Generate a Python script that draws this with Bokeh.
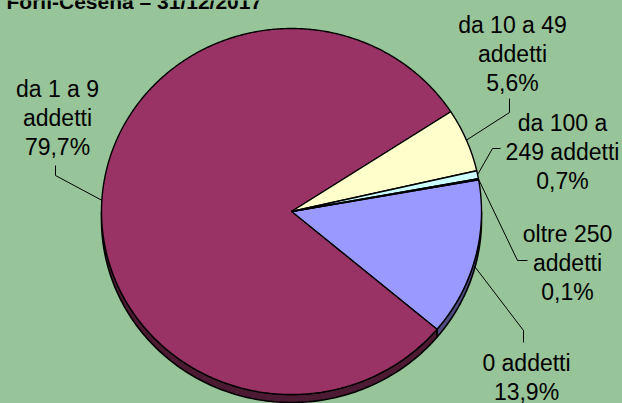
import numpy as np
from bokeh.plotting import figure
from bokeh.models import Range1d, GlobalInlineStyleSheet
from bokeh.embed import file_html
from bokeh.resources import INLINE
from bokeh.core.properties import value

# ---------------- data ----------------
title_text = "Forlì-Cesena – 31/12/2017"
categories = ["0 addetti", "da 1 a 9 addetti", "da 10 a 49 addetti",
              "da 100 a 249 addetti", "oltre 250 addetti"]
shares = [13.9, 79.7, 5.6, 0.7, 0.1]
label_heads = [["0 addetti"], ["da 1 a 9", "addetti"], ["da 10 a 49", "addetti"],
               ["da 100 a", "249 addetti"], ["oltre 250", "addetti"]]
colors = ["#9999FF", "#993366", "#FFFFCC", "#CCFFFF", "#660066"]
side_colors = ["#4D4D80", "#4D1A33", "#80806A", "#6A8080", "#330033"]

# ---------------- layout ----------------
BG = "#98C499"
RX, RY, DEPTH = 190.0, 183.0, 8.0
START = 10.0  # degrees, slices run clockwise from here
FONT = "Liberation Sans"
LINE_H = 29.0
# label anchor (center x, first line center y) and leader elbow points
label_pos = [(235, -151), (-234, 123), (221, 187), (271, 89), (276, -22)]
elbows = [[(232, -131), (232, -119)],
          [(-236, 46), (-236, 36)],
          [(218, 113), (218, 99)],
          [(209, 63), (201, 63)],
          [(236, -49), (226, -49)]]

p = figure(width=622, height=403, x_range=Range1d(-291, 331), y_range=Range1d(-192, 211),
           output_backend="svg", toolbar_location=None, min_border=0,
           x_axis_type=None, y_axis_type=None)
p.grid.visible = False
p.outline_line_color = None
p.background_fill_color = BG
p.border_fill_color = BG
p.stylesheets = [GlobalInlineStyleSheet(css="html, body { background: %s; }" % BG)]

# slice angles
starts, ends = [], []
acc = START
for s in shares:
    starts.append(acc)
    acc -= s * 3.6
    ends.append(acc)

# side (3D thickness) polygons
side_xs, side_ys, side_fc = [], [], []
for i in range(len(shares)):
    lo, hi = ends[i], starts[i]
    for a0, a1 in [(-180, 0), (180, 360), (-540, -360)]:
        a, b = max(lo, a0), min(hi, a1)
        if b > a:
            t = np.radians(np.linspace(a, b, 120))
            xt = RX * np.cos(t)
            yt = RY * np.sin(t)
            side_xs.append(list(np.concatenate([xt, xt[::-1]])))
            side_ys.append(list(np.concatenate([yt, (yt - DEPTH)[::-1]])))
            side_fc.append(side_colors[i])
p.patches(side_xs, side_ys, fill_color=side_fc, line_color="black", line_width=1.6)

# top faces
top_xs, top_ys = [], []
for i in range(len(shares)):
    n = max(4, int(abs(starts[i] - ends[i]) * 2))
    t = np.radians(np.linspace(ends[i], starts[i], n))
    top_xs.append([0.0] + list(RX * np.cos(t)))
    top_ys.append([0.0] + list(RY * np.sin(t)))
p.patches(top_xs, top_ys, fill_color=colors, line_color="black", line_width=1.4)

# leader lines (end at slice mid-angle on the rim)
lx, ly = [], []
for i in range(len(shares)):
    mid = np.radians((starts[i] + ends[i]) / 2)
    mx, my = RX * np.cos(mid), RY * np.sin(mid)
    if my < 0:
        my -= DEPTH
    (e0x, e0y), (e1x, e1y) = elbows[i]
    lx.append([e0x, e1x, mx])
    ly.append([e0y, e1y, my])
p.multi_line(lx, ly, line_color="black", line_width=1)

# labels
tx, ty, tt = [], [], []
for i in range(len(shares)):
    lines = label_heads[i] + [("%.1f" % shares[i]).replace(".", ",") + "%"]
    cx, cy = label_pos[i]
    for k, s in enumerate(lines):
        tx.append(cx)
        ty.append(cy - k * LINE_H)
        tt.append(s)
p.text(x=tx, y=ty, text=tt, text_align="center", text_baseline="middle",
       text_font=value(FONT), text_font_size=value("23px"), text_color="black")

# title (its upper half lies above the visible area, as in the reference)
p.text(x=[-285], y=[210], text=[title_text], text_align="left", text_baseline="middle",
       text_font=value(FONT), text_font_style="bold", text_font_size=value("21px"),
       text_color="black")

open("out.html", "w").write(file_html(p, INLINE))
